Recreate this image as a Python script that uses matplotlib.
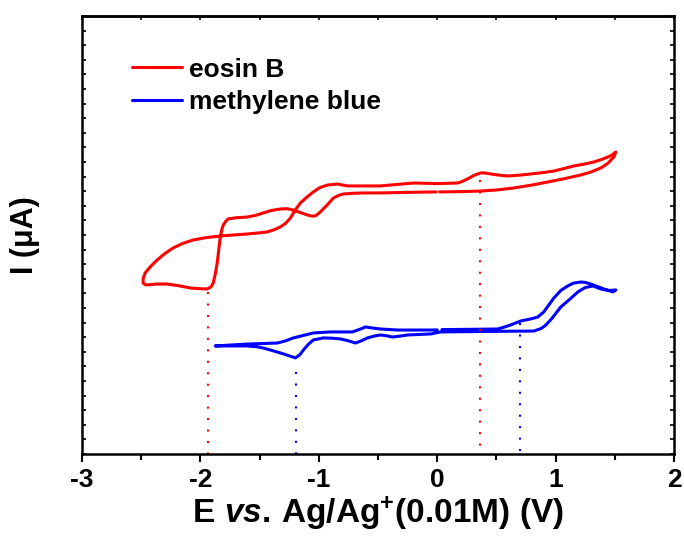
import numpy as np
import matplotlib.pyplot as plt
from matplotlib.ticker import MultipleLocator, NullFormatter

plt.rcParams["font.family"] = ["Liberation Sans", "DejaVu Sans"]
plt.rcParams["font.weight"] = "bold"
plt.rcParams["axes.unicode_minus"] = False
plt.rcParams["mathtext.fontset"] = "custom"
plt.rcParams["mathtext.rm"] = "Liberation Sans:bold"
plt.rcParams["mathtext.it"] = "Liberation Sans:italic:bold"
plt.rcParams["mathtext.bf"] = "Liberation Sans:bold"

# Eosin B voltammogram, one sweep starting near 0 V (left open at the start)
eosin_E = [0.02, 0.2, 0.367, 0.5, 0.646, 0.8, 0.934, 1.07, 1.213, 1.30,
           1.382, 1.44, 1.492, 1.509,
           1.48, 1.442, 1.38, 1.323, 1.24, 1.154, 1.07, 0.985, 0.89, 0.790,
           0.70, 0.596, 0.52, 0.452, 0.40, 0.367, 0.31, 0.257, 0.21, 0.173,
           0.0, -0.200, -0.479, -0.62, -0.758, -0.843, -0.927, -0.99, -1.046,
           -1.10, -1.156, -1.20, -1.240, -1.28, -1.325, -1.38, -1.435, -1.52,
           -1.604, -1.72, -1.832, -1.95, -2.061, -2.15, -2.230, -2.30, -2.365,
           -2.42, -2.467, -2.484, -2.484, -2.467,
           -2.450, -2.37, -2.281, -2.18, -2.086, -2.0, -1.942, -1.91, -1.892,
           -1.875, -1.858, -1.845, -1.832, -1.82, -1.807, -1.785, -1.765,
           -1.70, -1.604, -1.53, -1.469, -1.40, -1.325, -1.27, -1.215, -1.15,
           -1.096, -1.06, -1.029, -0.987, -0.93, -0.877, -0.83, -0.792, -0.70,
           -0.623, -0.479, -0.25, -0.01]
eosin_I = [17.95, 17.97, 18.01, 18.08, 18.22, 18.42, 18.63, 18.85, 19.11, 19.32,
           19.59, 19.90, 20.34, 20.68,
           20.50, 20.34, 20.15, 20.00, 19.85, 19.73, 19.55, 19.38, 19.27, 19.18,
           19.10, 19.04, 19.10, 19.18, 19.25, 19.25, 19.08, 18.84, 18.66, 18.56,
           18.52, 18.56, 18.36, 18.36, 18.36, 18.49, 18.42, 18.25, 17.95,
           17.60, 17.19, 16.70, 16.16, 15.80, 15.55, 15.35, 15.21, 15.13,
           15.07, 15.00, 14.93, 14.82, 14.66, 14.42, 14.11, 13.73, 13.29,
           12.85, 12.40, 12.00, 11.71, 11.60,
           11.58, 11.64, 11.64, 11.52, 11.37, 11.32, 11.30, 11.45, 11.71,
           12.30, 13.08, 14.00, 14.86, 15.35, 15.68, 15.95, 16.10,
           16.18, 16.23, 16.35, 16.51, 16.68, 16.78, 16.80, 16.71, 16.52,
           16.37, 16.30, 16.30, 16.58, 17.05, 17.53, 17.72, 17.81, 17.86,
           17.88, 17.88, 17.92, 17.95]

# Methylene blue voltammogram, same start potential
mb_E = [0.04, 0.3, 0.511, 0.57, 0.621, 0.706, 0.790, 0.849, 0.900, 0.985,
        1.044, 1.103, 1.15, 1.213, 1.25, 1.298, 1.408, 1.484, 1.509,
        1.45, 1.382, 1.315, 1.25, 1.188, 1.12, 1.044, 0.97, 0.92, 0.88,
        0.816, 0.5, 0.029, -0.056, -0.250, -0.31, -0.377, -0.43, -0.479,
        -0.53, -0.589, -0.64, -0.690, -0.75, -0.817, -0.89, -0.961, -1.046,
        -1.09, -1.130, -1.16, -1.198, -1.26, -1.325, -1.40, -1.469, -1.53,
        -1.604, -1.875,
        -1.604, -1.350, -1.28, -1.215, -1.13, -1.046, -0.902, -0.716, -0.65,
        -0.606, -0.54, -0.479, -0.335, -0.056, 0.0]
mb_I = [8.52, 8.54, 8.56, 8.70, 8.84, 9.11, 9.25, 9.38, 9.73, 10.68,
        11.20, 11.51, 11.70, 11.78, 11.75, 11.64, 11.30, 11.10, 11.23,
        11.20, 11.30, 11.51, 11.40, 11.10, 10.60, 10.07, 9.30, 8.85, 8.60,
        8.42, 8.40, 8.36, 8.22, 8.15, 8.08, 8.01, 8.10, 8.15,
        8.08, 7.95, 7.75, 7.60, 7.75, 7.88, 7.93, 7.95, 7.81,
        7.50, 7.12, 6.80, 6.58, 6.75, 6.92, 7.10, 7.26, 7.35,
        7.40, 7.40,
        7.53, 7.60, 7.75, 7.95, 8.12, 8.29, 8.36, 8.36, 8.55,
        8.70, 8.62, 8.56, 8.49, 8.49, 8.50]

# Peak markers: (potential, current where the dotted drop line starts)
eosin_peaks = [(-1.94, 11.1), (0.36, 18.8)]
mb_peaks = [(-1.19, 5.6), (0.70, 9.0)]

fig = plt.figure(figsize=(6.84, 5.4), dpi=100)
ax = fig.add_axes([0.1199, 0.1593, 0.8655, 0.8111])

ax.plot(eosin_E, eosin_I, color="#ff0000", lw=2.2, solid_joinstyle="round",
        solid_capstyle="round", label="eosin B")
ax.plot(mb_E, mb_I, color="#0000ff", lw=2.2, solid_joinstyle="round",
        solid_capstyle="round", label="methylene blue")

for x, y in eosin_peaks:
    ax.plot([x, x], [y, 0], color="#ff0000", lw=1.5, ls=(0, (1, 4.5)))
for x, y in mb_peaks:
    ax.plot([x, x], [y, 0], color="#0000ff", lw=1.5, ls=(0, (1, 4.5)))

ax.set_xlim(-3, 2)
ax.set_ylim(0, 30)

ax.xaxis.set_major_locator(MultipleLocator(1))
ax.xaxis.set_minor_locator(MultipleLocator(0.5))
ax.yaxis.set_major_locator(MultipleLocator(1))
ax.yaxis.set_major_formatter(NullFormatter())

ax.tick_params(axis="x", which="major", direction="out", length=6, width=1.5,
               labelsize=19, pad=4, top=False)
ax.tick_params(axis="x", which="minor", direction="out", length=4, width=1.5,
               top=False)
ax.tick_params(axis="y", which="major", direction="in", length=3, width=1.2,
               left=True, right=True)
for lab in ax.get_xticklabels():
    lab.set_fontweight("bold")

# inward ticks on the top edge
top = ax.secondary_xaxis("top")
top.xaxis.set_major_locator(MultipleLocator(1))
top.xaxis.set_minor_locator(MultipleLocator(0.5))
top.xaxis.set_major_formatter(NullFormatter())
top.tick_params(which="both", direction="in", length=3, width=1.2)
top.spines["top"].set_linewidth(1.8)

for s in ax.spines.values():
    s.set_linewidth(1.8)

ax.set_xlabel(r"$\mathrm{E\ }\mathit{vs.}\mathrm{\,Ag/Ag^{+}(0.01M)\ (V)}$",
              fontsize=24, labelpad=2)
ax.set_ylabel("I (\u03bcA)", fontsize=22, fontweight="bold", labelpad=27)

ax.legend(loc="upper left", bbox_to_anchor=(0.062, 0.935), frameon=False,
          fontsize=19, handlelength=1.9, handletextpad=0.25,
          labelspacing=0.33, borderpad=0)

fig.savefig("out.png", dpi=100)
